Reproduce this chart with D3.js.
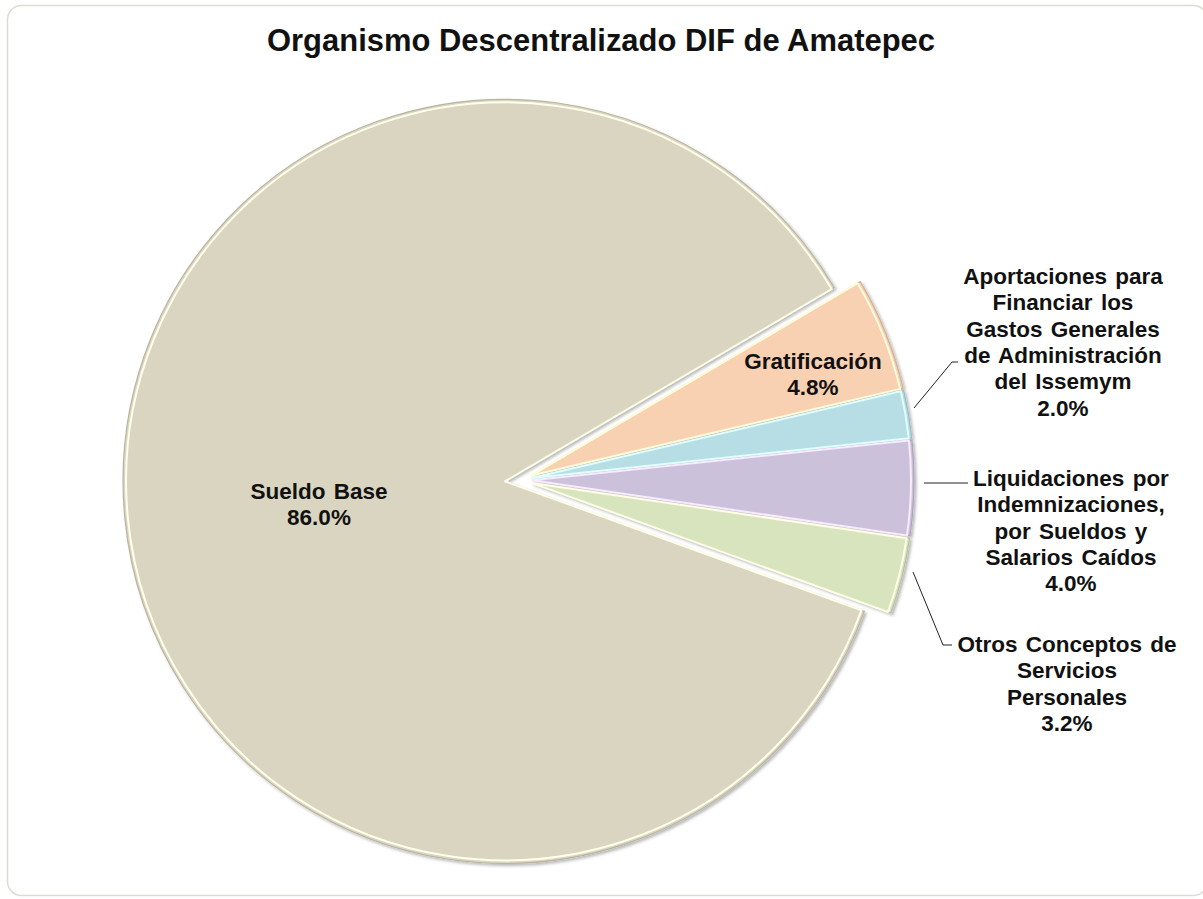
<!DOCTYPE html>
<html>
<head>
<meta charset="utf-8">
<script src="https://cdn.jsdelivr.net/npm/d3@7"></script>
<style>
  html, body { margin: 0; padding: 0; background: #ffffff; }
  svg { display: block; }
  text { font-family: "Liberation Sans", Arial, sans-serif; font-weight: bold; fill: #111; }
</style>
</head>
<body>
<svg id="chart" width="1203" height="899"></svg>
<script>
// ---- data ----
const title = "Organismo Descentralizado DIF de Amatepec";
const categories = [
  "Gratificación",
  "Aportaciones para\nFinanciar los\nGastos Generales\nde Administración\ndel Issemym",
  "Liquidaciones por\nIndemnizaciones,\npor Sueldos y\nSalarios Caídos",
  "Otros Conceptos de\nServicios\nPersonales",
  "Sueldo Base"
];
const values = [4.8, 2.0, 4.0, 3.2, 86.0];
const colors = ["#F8D0B2", "#B7DDE5", "#CCC1DB", "#D8E4BE", "#DAD5C0"];

// ---- layout ----
const W = 1203, H = 899;
const cx = 520, cy = 480, R = 382;
const startDeg = 59.5;
const svg = d3.select("#chart");

// frame
svg.append("rect")
  .attr("x", 7.5).attr("y", 5.5).attr("width", 1200).attr("height", 890)
  .attr("rx", 14).attr("fill", "#fff").attr("stroke", "#dedbd2").attr("stroke-width", 1.5);

// title
svg.append("text").attr("x", 601).attr("y", 51).attr("text-anchor", "middle")
  .style("font-size", "31px").attr("textLength", 668).attr("lengthAdjust", "spacingAndGlyphs")
  .text(title);

// shadow filter
const defs = svg.append("defs");
const f = defs.append("filter").attr("id", "sh").attr("x", "-10%").attr("y", "-10%").attr("width", "120%").attr("height", "120%");
f.append("feDropShadow").attr("dx", 2).attr("dy", 2).attr("stdDeviation", 1.6)
  .attr("flood-color", "#000").attr("flood-opacity", 0.28);

const data = categories.map((c, i) => ({ name: c, value: values[i], color: colors[i] }));
const pie = d3.pie().sort(null).value(d => d.value)
  .startAngle(startDeg * Math.PI / 180)
  .endAngle(startDeg * Math.PI / 180 + 2 * Math.PI);
const arcs = pie(data);
const arcGen = d3.arc().innerRadius(0).outerRadius(R);
const innerGen = d3.arc().innerRadius(0).outerRadius(R - 3);

const g = svg.append("g").attr("transform", `translate(${cx},${cy})`);
function offset(d) {
  const ex = d.data.name === "Sueldo Base" ? 15 : 12;
  const m = (d.startAngle + d.endAngle) / 2;
  return [Math.sin(m) * ex, -Math.cos(m) * ex];
}
const sl = g.selectAll("g.slice").data(arcs).join("g").attr("class", "slice")
  .attr("transform", d => { const o = offset(d); return `translate(${o[0]},${o[1]})`; });
sl.append("path").attr("d", arcGen).attr("fill", d => d.data.color)
  .attr("stroke", d => d3.color(d.data.color).darker(0.45)).attr("stroke-width", 1.2)
  .attr("filter", "url(#sh)");
sl.append("path").attr("d", innerGen).attr("fill", "none")
  .attr("stroke", d => d3.color(d.data.color).brighter(0.55)).attr("stroke-width", 2)
  .attr("stroke-linejoin", "round");

// labels
const fmt = v => d3.format(".1f")(v) + "%";
const labelPos = [
  { x: 813, y: 369 },
  { x: 1063, y: 284 },
  { x: 1071, y: 486 },
  { x: 1067, y: 652 },
  { x: 319, y: 499 }
];
const lh = 26.3;
arcs.forEach((d, i) => {
  const lines = d.data.name.split("\n").concat([fmt(d.data.value)]);
  const t = svg.append("text").attr("text-anchor", "middle").style("font-size", "22.5px")
    .style("word-spacing", "2px");
  lines.forEach((ln, k) => {
    t.append("tspan").attr("x", labelPos[i].x).attr("y", labelPos[i].y + k * lh).text(ln);
  });
});

// leader lines
const leaders = [
  [[914, 408], [952, 362], [958, 362]],
  [[924, 483], [968, 483]],
  [[913, 572], [943, 645], [952, 645]]
];
leaders.forEach(pts => {
  svg.append("path").attr("d", d3.line()(pts)).attr("fill", "none")
    .attr("stroke", "#222").attr("stroke-width", 1);
});
</script>
</body>
</html>
